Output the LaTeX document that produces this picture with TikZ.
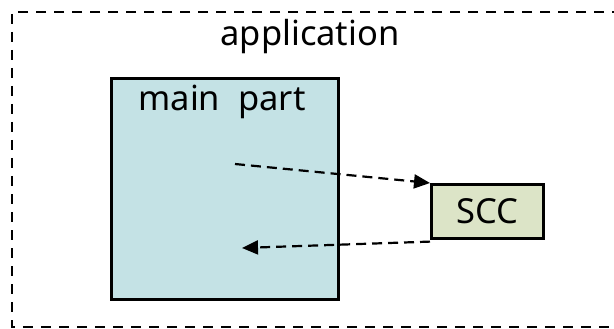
\documentclass[tikz,border=0pt]{standalone}
\usepackage{fontspec}
\setmainfont{Noto Sans}
\usetikzlibrary{arrows.meta}
\definecolor{mainfill}{HTML}{C4E2E5}
\definecolor{sccfill}{HTML}{DCE4C7}
\tikzset{
  frame/.style={draw=black, line width=2.2pt, dash pattern=on 10pt off 8pt},
  box/.style={draw=black, line width=2.6pt, inner sep=0pt},
  flow/.style={draw=black, line width=2.2pt, dash pattern=on 10pt off 6pt,
    -{Triangle[length=16pt,width=14pt]}},
  lbl/.style={font=\fontsize{34.5}{40}\selectfont, inner sep=0pt}
}
\begin{document}
\begin{tikzpicture}[x=1pt,y=-1pt]
  \useasboundingbox (0,0) rectangle (614,329);
  % outer application boundary (runs past the right edge)
  \draw[frame] (640,12) -- (12,12) -- (12,327) -- (640,327);
  \node[lbl] (app) at (310,37) {application};
  % main part block
  \node[box, fill=mainfill, anchor=north west,
        minimum width=227pt, minimum height=221pt] (main) at (110,77) {};
  \node[lbl] (mainlbl) at (222,102) {main\ \ part};
  % SCC block
  \node[box, fill=sccfill, anchor=north west,
        minimum width=112pt, minimum height=54pt] (scc) at (430,183) {};
  \node[lbl] (scclbl) at (scc.center) {SCC};
  % call and return
  \coordinate (src) at (235,164);
  \coordinate (dst) at (242,248);
  \draw[flow] (src) -- (scc.north west);
  \draw[flow] ([yshift=-2pt]scc.south west) -- (dst);
\end{tikzpicture}
\end{document}
